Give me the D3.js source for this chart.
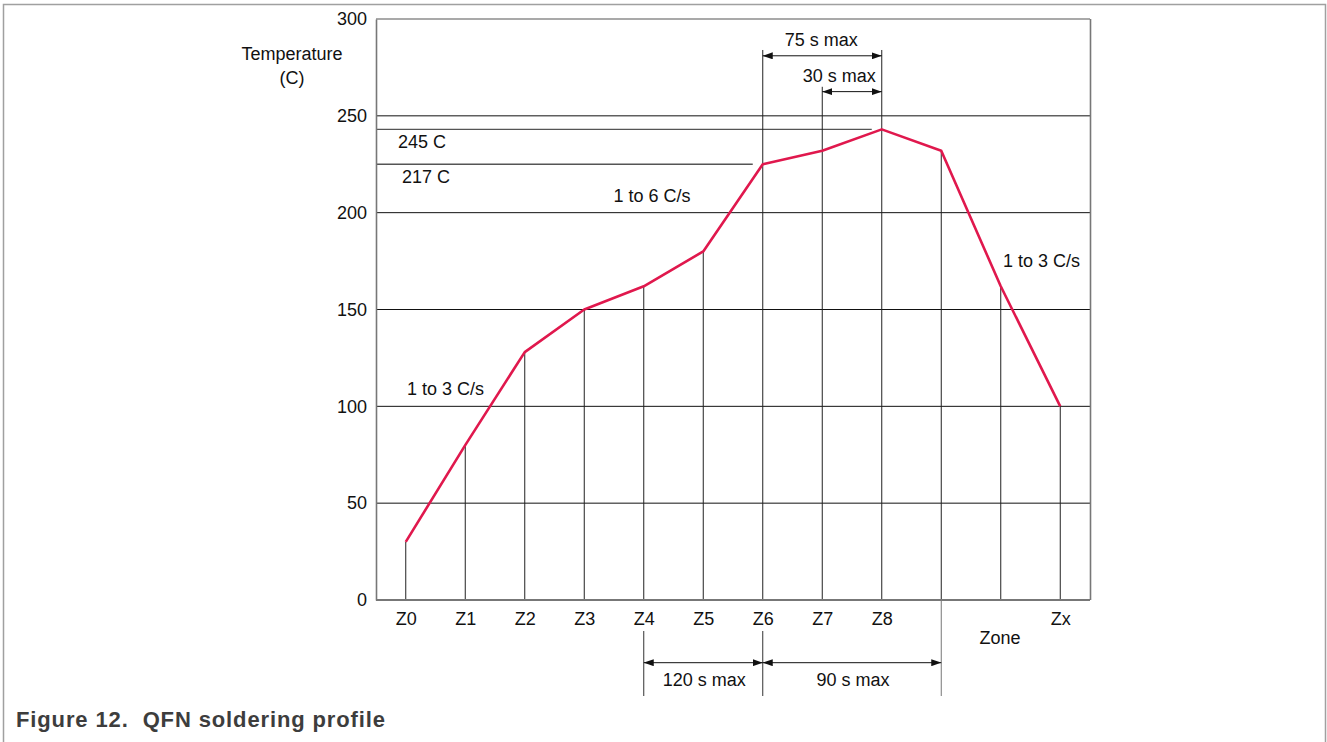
<!DOCTYPE html>
<html>
<head>
<meta charset="utf-8">
<script src="https://cdn.jsdelivr.net/npm/d3@7"></script>
<style>
  body { margin: 0; background: #fff; }
  svg { display: block; }
  text { font-family: "Liberation Sans", Arial, sans-serif; fill: #111; }
</style>
</head>
<body>
<svg id="chart"></svg>
<script>
// data
var zones = ["Z0", "Z1", "Z2", "Z3", "Z4", "Z5", "Z6", "Z7", "Z8", "Z9", "Z10", "Zx"];
var zoneLabels = ["Z0", "Z1", "Z2", "Z3", "Z4", "Z5", "Z6", "Z7", "Z8", "", "", "Zx"];
var temps = [30, 80, 128, 150, 162, 180, 225, 232, 243, 232, 162, 100];
var yTicks = [0, 50, 100, 150, 200, 250, 300];
var gridValues = [50, 100, 150, 200, 250];

// reference levels: label, value, zone where the line stops
var refLabels = ["245 C", "217 C"];
var refValues = [243, 225];
var refEnds = ["Z8", "Z6"];

// brackets above the plot (levels in degrees)
var topLabels = ["75 s max", "30 s max"];
var topFrom = ["Z6", "Z7"];
var topTo = ["Z8", "Z8"];
var topLevel = [281, 262.5];
var topExt = [284, 265];

// brackets under the zone axis
var bottomLabels = ["120 s max", "90 s max"];
var bottomFrom = ["Z4", "Z6"];
var bottomTo = ["Z6", "Z9"];

var W = 1327, H = 742;
var svg = d3.select("#chart").attr("width", W).attr("height", H);

// figure frame (open at the bottom)
svg.append("path")
   .attr("d", "M3.5,742 V4.5 H1325.5 V742")
   .style("fill", "none")
   .style("stroke", "#a0a0a0")
   .style("stroke-width", 1.5);

var x = d3.scalePoint().domain(zones).range([376, 1090]).padding(0.5);
var y = d3.scaleLinear().domain([0, 300]).range([600, 19]);

var defs = svg.append("defs");
defs.append("marker")
   .attr("id", "arr")
   .attr("viewBox", "0 0 10 7")
   .attr("refX", 10).attr("refY", 3.5)
   .attr("markerWidth", 10).attr("markerHeight", 7)
   .attr("markerUnits", "userSpaceOnUse")
   .attr("orient", "auto-start-reverse")
   .append("path").attr("d", "M0,0 L10,3.5 L0,7 Z").style("fill", "#111");

// grid lines
svg.selectAll(".grid").data(gridValues).enter().append("line")
   .attr("x1", 376).attr("x2", 1090)
   .attr("y1", function(d) { return y(d); })
   .attr("y2", function(d) { return y(d); })
   .style("stroke", "#111").style("stroke-width", 1);

// top border of plot (300) and right border
svg.append("line").attr("x1", 376).attr("x2", 1090).attr("y1", y(300)).attr("y2", y(300))
   .style("stroke", "#555").style("stroke-width", 1.2);
svg.append("line").attr("x1", 1090.5).attr("x2", 1090.5).attr("y1", y(300)).attr("y2", y(0))
   .style("stroke", "#777").style("stroke-width", 1.6);

// reference level lines
refValues.forEach(function(v, i) {
  svg.append("line")
     .attr("x1", 376).attr("x2", x(refEnds[i]) - 10)
     .attr("y1", y(v)).attr("y2", y(v))
     .style("stroke", "#555").style("stroke-width", 1.4);
  svg.append("text")
     .attr("x", i === 0 ? 398 : 402).attr("y", y(v) + 19)
     .style("font-size", "18px")
     .text(refLabels[i]);
});

// drop lines from each point
zones.forEach(function(z, i) {
  var top = temps[i];
  var ti = topFrom.indexOf(z), tj = topTo.indexOf(z);
  if (ti >= 0) top = Math.max(top, topExt[ti]);
  if (tj >= 0) top = Math.max(top, d3.max(topExt));
  svg.append("line")
     .attr("x1", x(z)).attr("x2", x(z))
     .attr("y1", y(top)).attr("y2", y(0))
     .style("stroke", "#222").style("stroke-width", 1);
});

// extension lines below the axis
var extZones = [];
bottomFrom.concat(bottomTo).forEach(function(z) { if (extZones.indexOf(z) < 0) extZones.push(z); });
extZones.forEach(function(z) {
  svg.append("line")
     .attr("x1", x(z)).attr("x2", x(z))
     .attr("y1", z === "Z9" ? y(0) : 631).attr("y2", 696)
     .style("stroke", z === "Z9" ? "#777" : "#333").style("stroke-width", 1);
});

// left axis
var yAxis = d3.axisLeft(y).tickValues(yTicks).tickSize(0).tickPadding(9);
var gy = svg.append("g").attr("transform", "translate(376,0)").call(yAxis);
gy.select(".domain").style("stroke", "#777").style("stroke-width", 1.6);
gy.selectAll("text").style("font-size", "18px").style("font-family", "Liberation Sans, Arial, sans-serif").attr("fill", "#111");

// bottom axis
var xAxis = d3.axisBottom(x).tickSize(0).tickPadding(12)
   .tickFormat(function(d, i) { return zoneLabels[i]; });
var gx = svg.append("g").attr("transform", "translate(0,600)").call(xAxis);
gx.select(".domain").attr("d", "M376,0H1090").style("stroke", "#777").style("stroke-width", 2);
gx.selectAll("text").style("font-size", "18px").style("font-family", "Liberation Sans, Arial, sans-serif").attr("fill", "#111");

// profile curve
var line = d3.line()
   .x(function(d, i) { return x(zones[i]); })
   .y(function(d) { return y(d); });
svg.append("path")
   .datum(temps)
   .attr("d", line)
   .style("fill", "none")
   .style("stroke", "#e0184d")
   .style("stroke-width", 2.6)
   .style("stroke-linejoin", "round");

// top brackets
topLabels.forEach(function(lab, i) {
  var ly = y(topLevel[i]);
  svg.append("line")
     .attr("x1", x(topFrom[i])).attr("x2", x(topTo[i]))
     .attr("y1", ly).attr("y2", ly)
     .attr("marker-start", "url(#arr)").attr("marker-end", "url(#arr)")
     .style("stroke", "#111").style("stroke-width", 1);
  var t = svg.append("text").style("font-size", "18px").text(lab);
  if (i === 0) {
    t.attr("x", (x(topFrom[i]) + x(topTo[i])) / 2 - 1).attr("y", ly - 10).attr("text-anchor", "middle");
  } else {
    t.attr("x", x(topTo[i]) - 6).attr("y", ly - 10).attr("text-anchor", "end");
  }
});

// bottom brackets
bottomLabels.forEach(function(lab, i) {
  svg.append("line")
     .attr("x1", x(bottomFrom[i])).attr("x2", x(bottomTo[i]))
     .attr("y1", 662.7).attr("y2", 662.7)
     .attr("marker-start", "url(#arr)").attr("marker-end", "url(#arr)")
     .style("stroke", "#111").style("stroke-width", 1);
  svg.append("text")
     .attr("x", (x(bottomFrom[i]) + x(bottomTo[i])) / 2 + 1)
     .attr("y", 686)
     .attr("text-anchor", "middle")
     .style("font-size", "18px")
     .text(lab);
});

// slope notes and titles
svg.append("text").attr("x", 652).attr("y", 202).attr("text-anchor", "middle").style("font-size", "18px").text("1 to 6 C/s");
svg.append("text").attr("x", 407).attr("y", 395).style("font-size", "18px").text("1 to 3 C/s");
svg.append("text").attr("x", 1003).attr("y", 267).style("font-size", "18px").text("1 to 3 C/s");
svg.append("text").attr("x", 292).attr("y", 60).attr("text-anchor", "middle").style("font-size", "18px").text("Temperature");
svg.append("text").attr("x", 292).attr("y", 84).attr("text-anchor", "middle").style("font-size", "18px").text("(C)");
svg.append("text").attr("x", 1000).attr("y", 644).attr("text-anchor", "middle").style("font-size", "18px").text("Zone");

// caption
svg.append("text")
   .attr("x", 16).attr("y", 727)
   .attr("textLength", 369).attr("lengthAdjust", "spacing")
   .style("font-size", "22px").style("font-weight", "bold").style("fill", "#3d3d3d")
   .style("white-space", "pre")
   .text("Figure 12.  QFN soldering profile");
</script>
</body>
</html>
